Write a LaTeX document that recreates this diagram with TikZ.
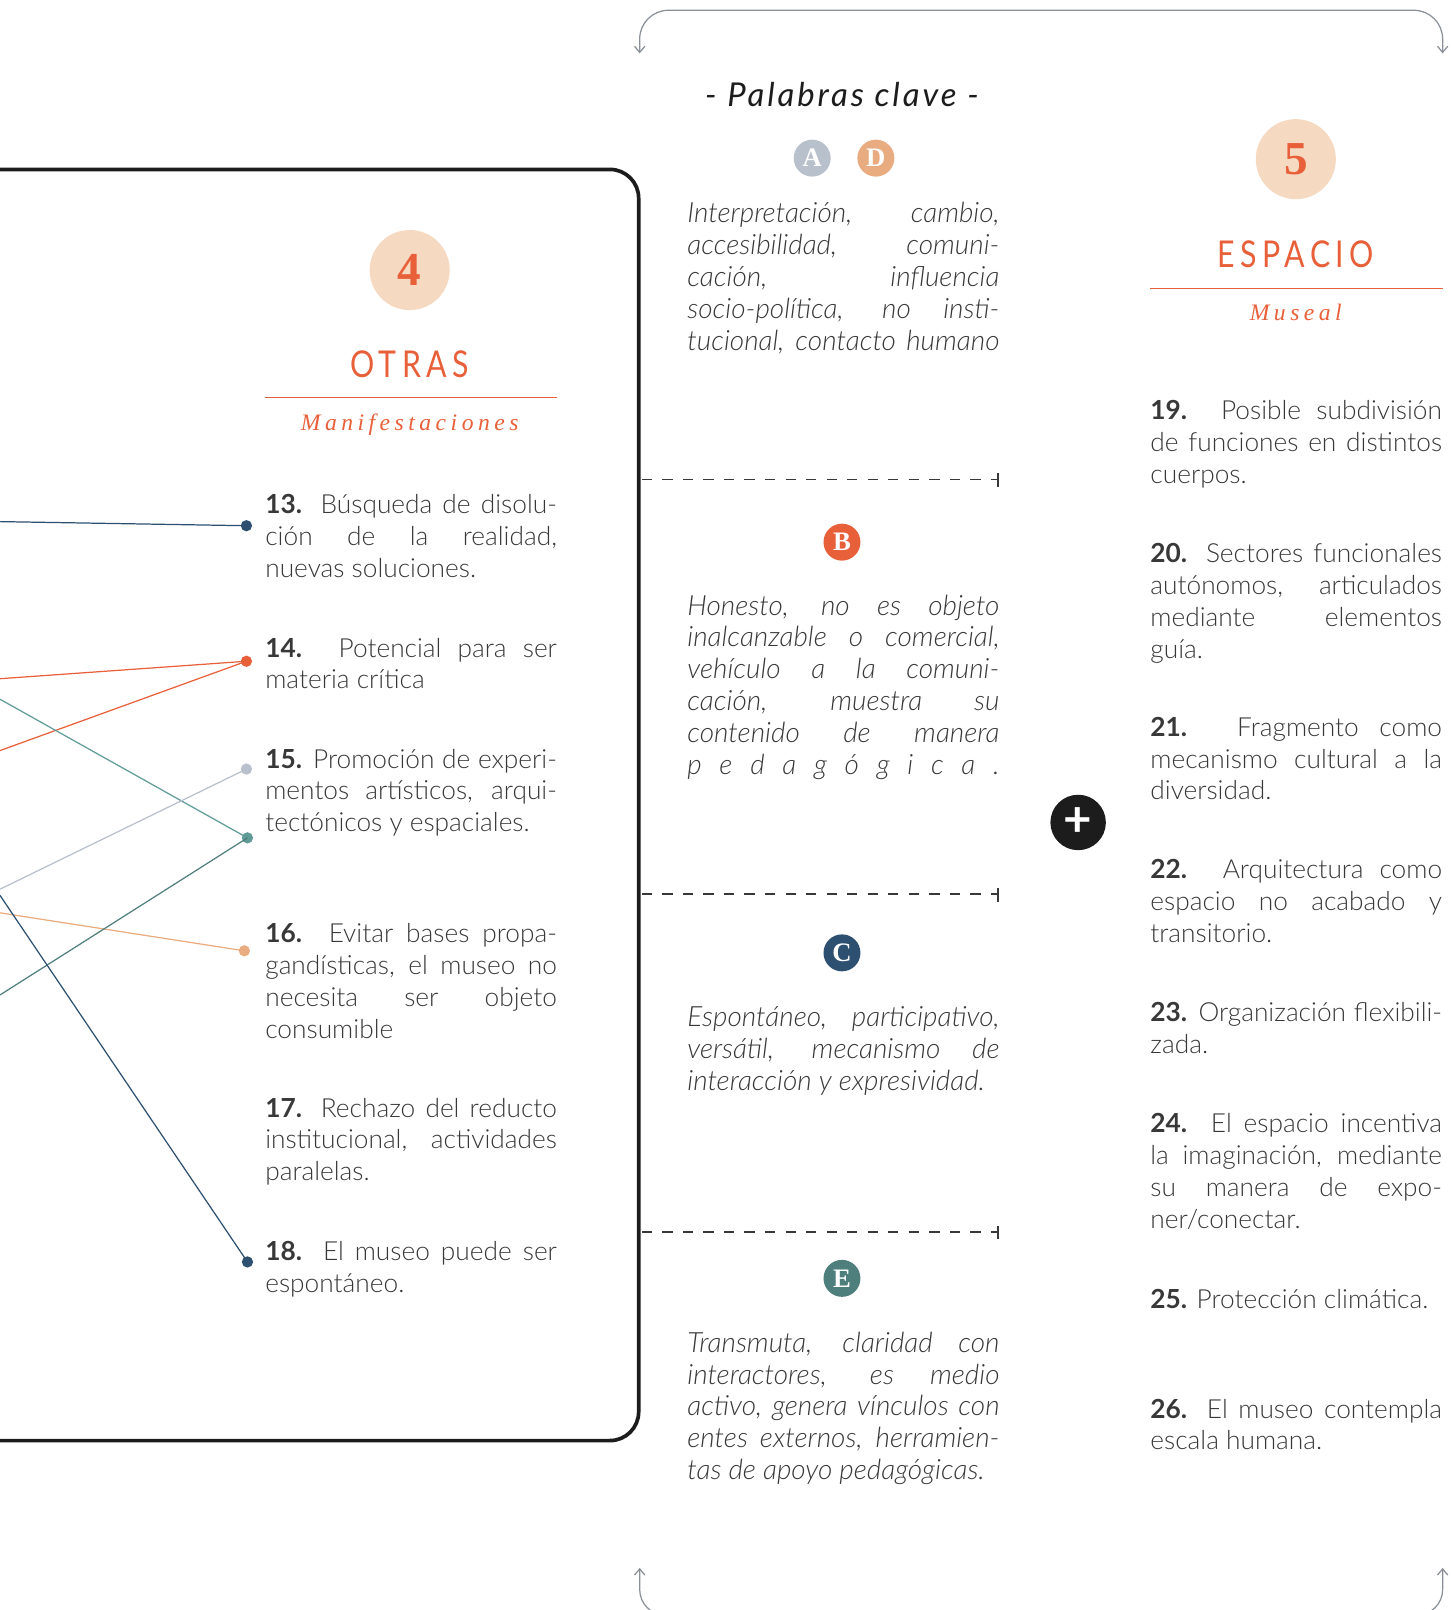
\documentclass[tikz,border=0pt]{standalone}
\usepackage{fontspec}
\usetikzlibrary{arrows.meta}
\IfFontExistsTF{Lato Light}{%
  \setmainfont{Lato}[UprightFont=* Light, ItalicFont=* Light Italic, BoldFont=* Bold, BoldItalicFont=* Bold Italic]}{%
  \setmainfont{Lato}}
\newfontfamily\titulofont{Lato}[LetterSpace=18]
\newfontfamily\clavefont{Lato}[LetterSpace=9]
\newfontfamily\subtitulofont{Liberation Serif}[LetterSpace=19]
\newfontfamily\letrafont{Liberation Serif}

\definecolor{naranja}{HTML}{E8603A}
\definecolor{melocoton}{HTML}{E9AB80}
\definecolor{crema}{HTML}{F6D9C1}
\definecolor{gris}{HTML}{B8C0CC}
\definecolor{marino}{HTML}{2D5070}
\definecolor{verde}{HTML}{609B98}
\definecolor{verdeosc}{HTML}{4F7F7D}
\definecolor{texto}{HTML}{383838}
\definecolor{negro}{HTML}{1C1C1C}
\definecolor{flecha}{HTML}{8A9098}

% renglon justificado a todo el ancho
\newcommand{\linea}[1]{\makebox[\linewidth][s]{#1}\par}

\tikzset{
  punto/.style={circle, fill=#1, inner sep=0pt, minimum size=5.5pt},
  enlace/.style={draw=#1, line width=0.6pt},
  item/.style={anchor=base west, inner sep=0pt, text width=142pt, align=justify, text=texto,
    font=\fontsize{12.8}{15.5}\selectfont},
  clave/.style={anchor=base west, inner sep=0pt, text width=152pt, align=justify, text=texto,
    font=\fontsize{13.6}{15.5}\selectfont\itshape},
  letra/.style={circle, fill=#1, inner sep=0pt, minimum size=18pt, text=white,
    font=\letrafont\bfseries\fontsize{13}{13}\selectfont},
  numero/.style={circle, fill=crema, inner sep=0pt, minimum size=39pt, text=naranja,
    font=\letrafont\bfseries\fontsize{23}{23}\selectfont},
  titulo/.style={text=naranja, inner sep=0pt, font=\titulofont\fontsize{18}{18}\selectfont},
  subtitulo/.style={anchor=base, text=naranja, inner sep=0pt, font=\subtitulofont\itshape\fontsize{11.5}{11.5}\selectfont},
  separador/.style={draw=texto, line width=0.9pt, dash pattern=on 5pt off 5pt},
}

\begin{document}
\begin{tikzpicture}[x={(0.5pt,0)}, y={(0,-0.5pt)}]
\useasboundingbox (0,0) rectangle (1416,1568);

% llaves de arriba y abajo
\draw[flecha, line width=0.6pt, rounded corners=14pt, {Straight Barb[length=3pt,width=5pt]}-{Straight Barb[length=3pt,width=5pt]}]
  (623,52) -- (623,10) -- (1405,10) -- (1405,52);
\draw[flecha, line width=0.6pt, rounded corners=12.5pt, {Straight Barb[length=3pt,width=5pt]}-{Straight Barb[length=3pt,width=5pt]}]
  (623,1527) -- (623,1573) -- (1405,1573) -- (1405,1527);

% recuadro 4
\draw[negro, line width=1.8pt, rounded corners=14pt] (-20,165) -- (622,165) -- (622,1403) -- (-20,1403);

\node[numero] (n4) at (399,263) {4};
\node[titulo] (otras) at (399,355) {\scalebox{0.82}[1]{OTRAS}};
\draw[naranja, line width=0.7pt] (258,387) -- (542,387);
\node[subtitulo] (manif) at (399,419) {Manifestaciones};

\node[item] (t13) at (258,500) {\linea{\textbf{13.} Búsqueda de disolu-}\linea{ción de la realidad,}nuevas soluciones.};
\node[item] (t14) at (258,640) {\linea{\textbf{14.} Potencial para ser}materia crítica};
\node[item] (t15) at (258,748) {\linea{\textbf{15.} Promoción de experi-}\linea{mentos artísticos, arqui-}tectónicos y espaciales.};
\node[item] (t16) at (258,918) {\linea{\textbf{16.} Evitar bases propa-}\linea{gandísticas, el museo no}\linea{necesita ser objeto}consumible};
\node[item] (t17) at (258,1088) {\linea{\textbf{17.} Rechazo del reducto}\linea{institucional, actividades}paralelas.};
\node[item] (t18) at (258,1228) {\linea{\textbf{18.} El museo puede ser}espontáneo.};

% enlaces desde la izquierda
\coordinate (i13) at (0,508);
\coordinate (i14a) at (0,661);
\coordinate (i14b) at (0,731);
\coordinate (i15a) at (0,681);
\coordinate (i15) at (0,866);
\coordinate (i16) at (0,889);
\coordinate (i15b) at (0,969);
\coordinate (i18) at (0,872);

\node[punto=marino] (p13) at (240,512) {};
\node[punto=naranja] (p14) at (240,644) {};
\node[punto=gris] (p15) at (240,749) {};
\node[punto=verde] (p15b) at (241,816) {};
\node[punto=melocoton] (p16) at (238,926) {};
\node[punto=marino] (p18) at (241,1229) {};

\draw[enlace=marino] (i13) -- (p13.center);
\draw[enlace=naranja] (i14a) -- (p14.center);
\draw[enlace=naranja] (i14b) -- (p14.center);
\draw[enlace=verde] (i15a) -- (p15b.center);
\draw[enlace=gris] (i15) -- (p15.center);
\draw[enlace=melocoton] (i16) -- (p16.center);
\draw[enlace=verdeosc] (i15b) -- (p15b.center);
\draw[enlace=marino] (i18) -- (p18.center);

% palabras clave
\node[inner sep=0pt, text=negro, font=\clavefont\itshape\fontsize{16}{16}\selectfont] (palabras) at (820,92) {- Palabras clave -};

\node[letra=gris] (la) at (791,154) {A};
\node[letra=melocoton] (ld) at (853,154) {D};
\node[clave] (kad) at (669,217) {\linea{Interpretación, cambio,}\linea{accesibilidad, comuni-}\linea{cación, influencia}\linea{socio-política, no insti-}\linea{tucional, contacto humano}};

\draw[separador] (625,467) -- (972,467);
\draw[texto, line width=0.9pt] (972,461) -- (972,474);

\node[letra=naranja] (lb) at (820,528) {B};
\node[clave] (kb) at (669,599) {\linea{Honesto, no es objeto}\linea{inalcanzable o comercial,}\linea{vehículo a la comuni-}\linea{cación, muestra su}\linea{contenido de manera}\linea{p e d a g ó g i c a .}};

\draw[separador] (625,871) -- (972,871);
\draw[texto, line width=0.9pt] (972,865) -- (972,878);

\node[letra=marino] (lc) at (820,928) {C};
\node[clave] (kc) at (669,1000) {\linea{Espontáneo, participativo,}\linea{versátil, mecanismo de}interacción y expresividad.};

\draw[separador] (625,1200) -- (972,1200);
\draw[texto, line width=0.9pt] (972,1194) -- (972,1207);

\node[letra=verdeosc] (le) at (820,1245) {E};
\node[clave] (ke) at (669,1317) {\linea{Transmuta, claridad con}\linea{interactores, es medio}\linea{activo, genera vínculos con}\linea{entes externos, herramien-}tas de apoyo pedagógicas.};

% suma
\node[circle, fill=negro, inner sep=0pt, minimum size=27pt, text=white, font=\bfseries\fontsize{24}{24}\selectfont] (mas) at (1050,801) {+};

% espacio 5
\node[numero] (n5) at (1262,155) {5};
\node[titulo] (espacio) at (1262,248) {\scalebox{0.82}[1]{ESPACIO}};
\draw[naranja, line width=0.7pt] (1120,281) -- (1405,281);
\node[subtitulo] (museal) at (1262,312) {Museal};

\node[item] (t19) at (1120,409) {\linea{\textbf{19.} Posible subdivisión}\linea{de funciones en distintos}cuerpos.};
\node[item] (t20) at (1120,548) {\linea{\textbf{20.} Sectores funcionales}\linea{autónomos, articulados}\linea{mediante elementos}guía.};
\node[item] (t21) at (1120,717) {\linea{\textbf{21.} Fragmento como}\linea{mecanismo cultural a la}diversidad.};
\node[item] (t22) at (1120,856) {\linea{\textbf{22.} Arquitectura como}\linea{espacio no acabado y}transitorio.};
\node[item] (t23) at (1120,995) {\linea{\textbf{23.} Organización flexibili-}zada.};
\node[item] (t24) at (1120,1103) {\linea{\textbf{24.} El espacio incentiva}\linea{la imaginación, mediante}\linea{su manera de expo-}ner/conectar.};
\node[item] (t25) at (1120,1274) {\textbf{25.} Protección climática.};
\node[item] (t26) at (1120,1381) {\linea{\textbf{26.} El museo contempla}escala humana.};
\end{tikzpicture}
\end{document}
